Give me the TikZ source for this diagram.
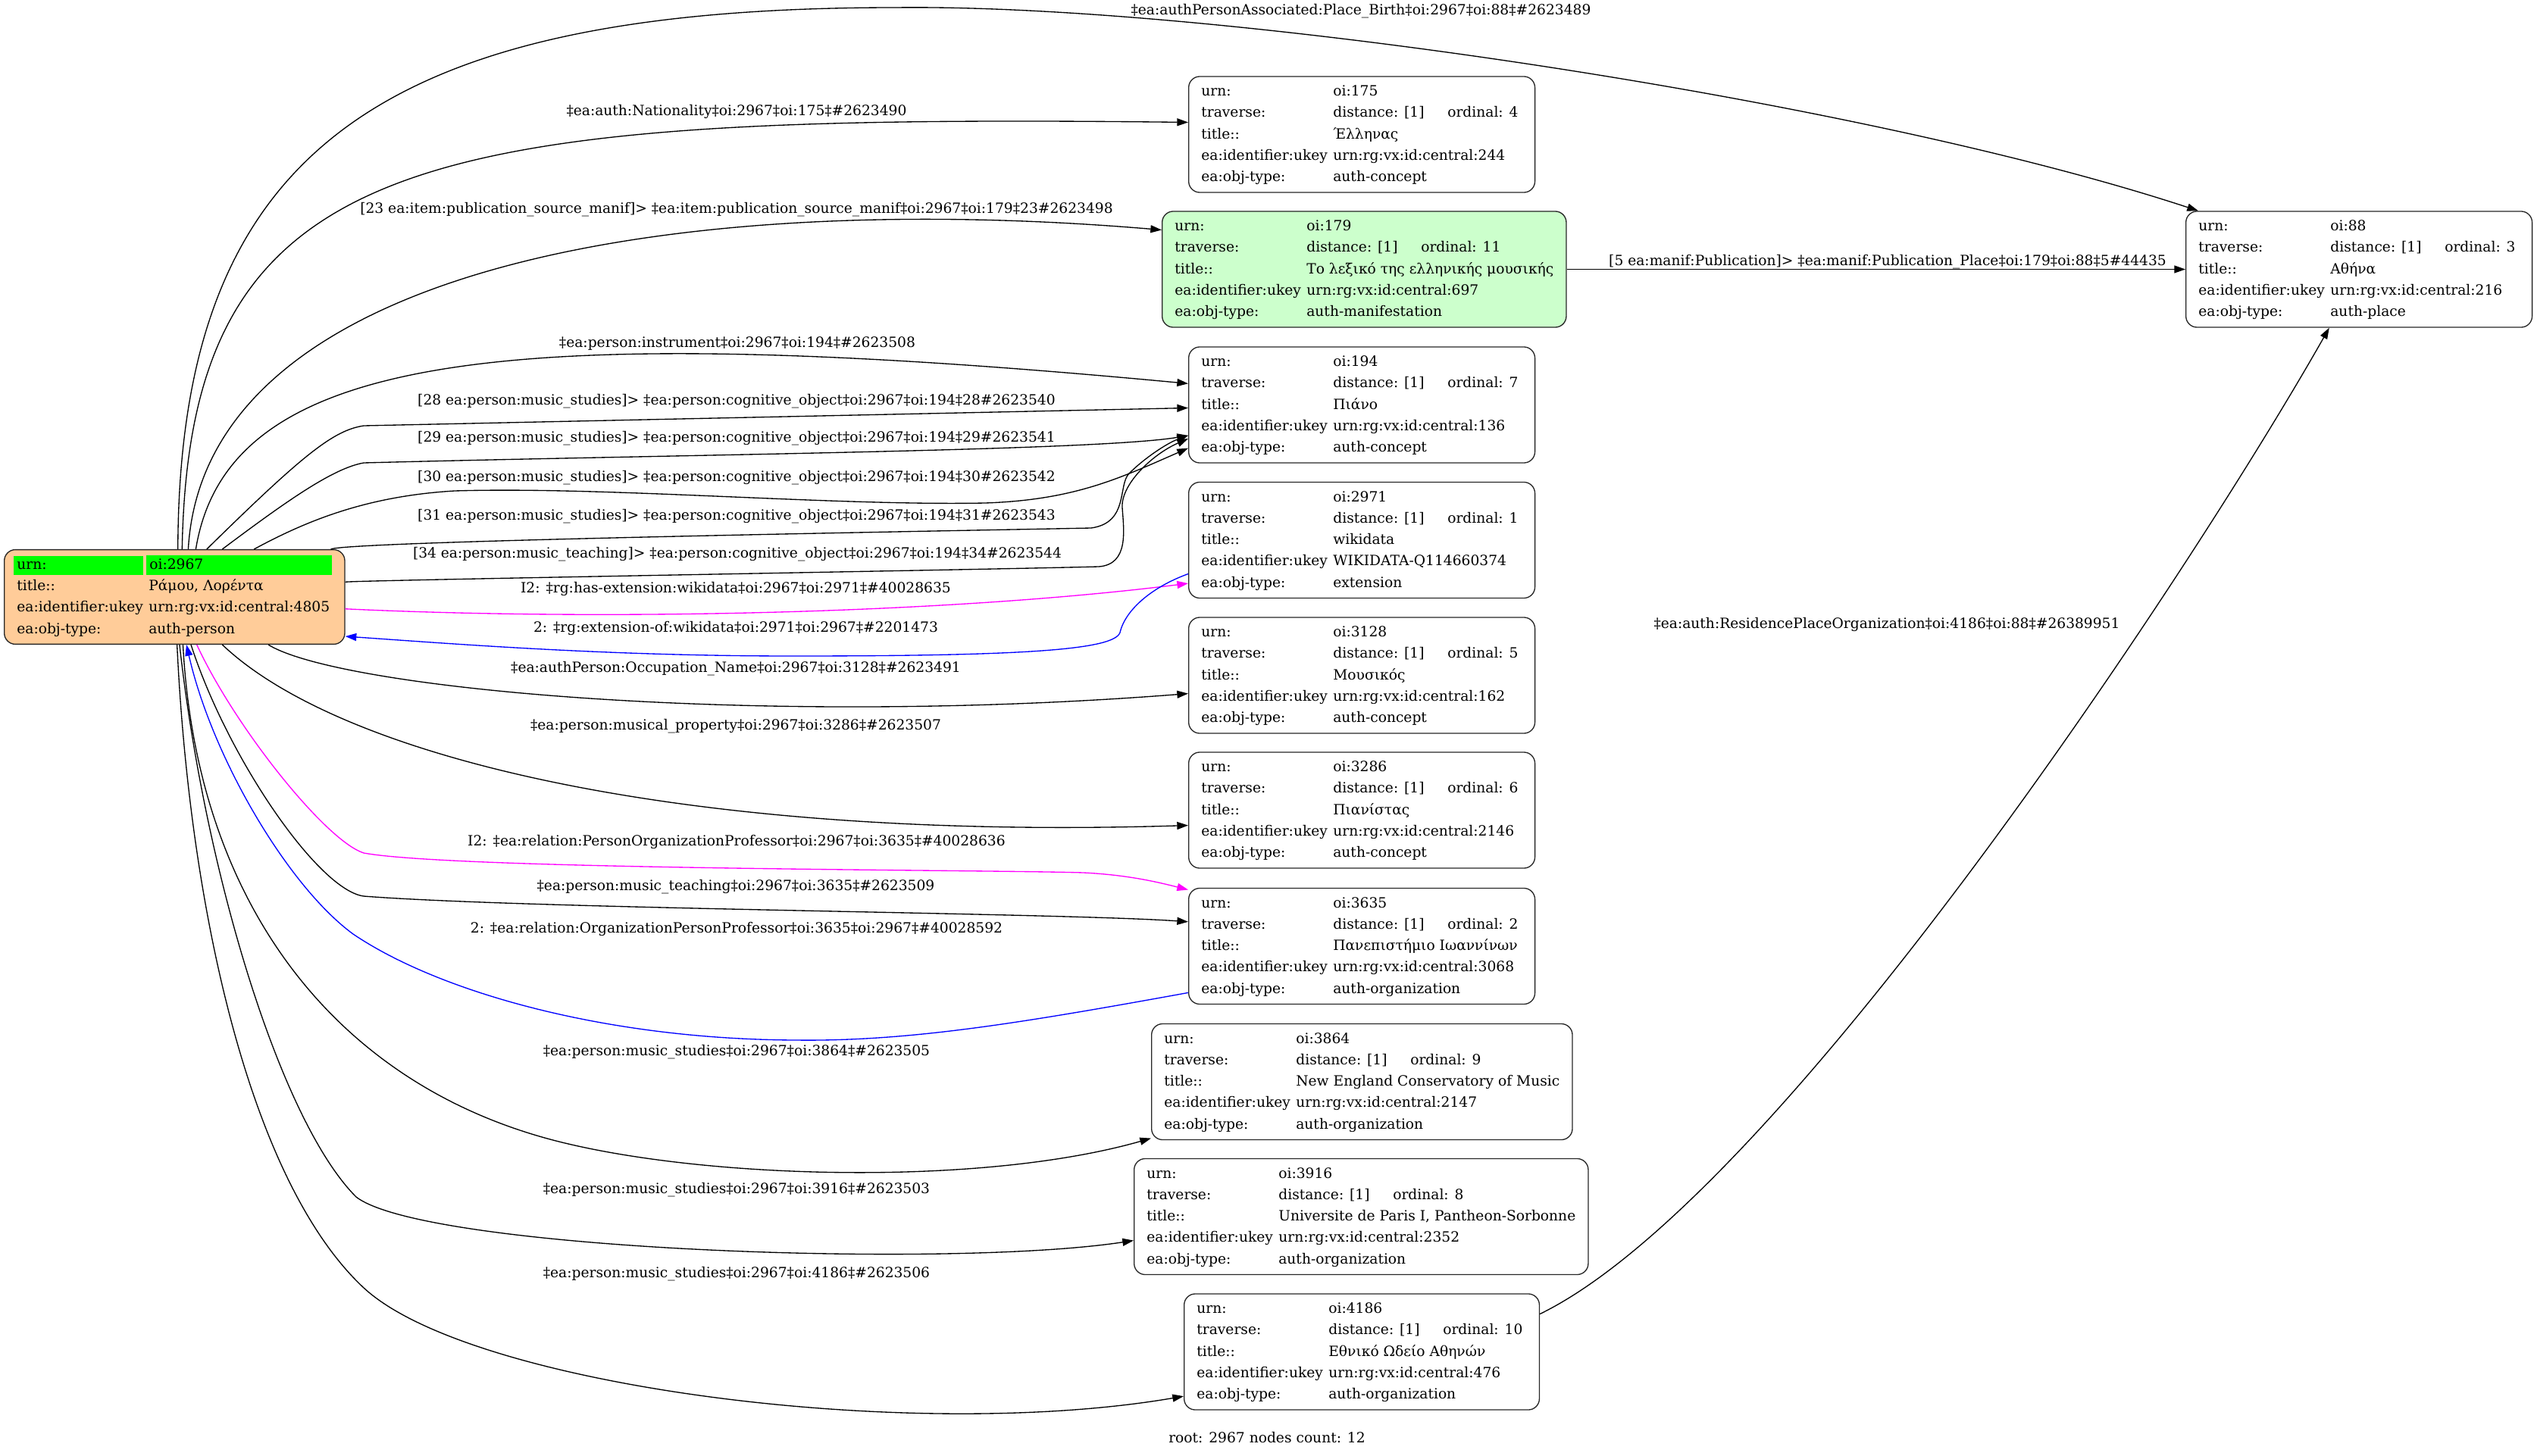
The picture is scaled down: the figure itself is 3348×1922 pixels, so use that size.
\documentclass[tikz,border=0pt]{standalone}
\usepackage{fontspec}
\setmainfont{DejaVu Serif}
\usetikzlibrary{arrows.meta}
\definecolor{person}{HTML}{FFCC99}
\definecolor{hit}{HTML}{00FF00}
\definecolor{manif}{HTML}{CCFFCC}
\definecolor{ext}{HTML}{FF00FF}
\definecolor{back}{HTML}{0000FF}
\tikzset{
  >={Triangle[length=11pt,width=7.5pt]},
  rec/.style = {draw=black!85, line width=1pt, rounded corners=11pt, align=left,
    inner xsep=12.5pt, inner ysep=4.4pt, font=\fontsize{14}{21.2}\selectfont},
  lbl/.style = {anchor=base, inner sep=0pt, font=\fontsize{14}{17}\selectfont},
  rel/.style = {->, line width=1pt},
}
\newcommand{\keycol}[1]{\makebox[130.5pt][l]{#1}}
\newcommand{\objrec}[5]{%
  \keycol{urn:}oi:#1\strut\\
  \keycol{traverse:}distance: [1]\hspace{23pt}ordinal: #2\kern4pt\strut\\
  \keycol{title::}#3\strut\\
  \keycol{ea:identifier:ukey}#4\strut\\
  \keycol{ea:obj-type:}#5\strut}

\begin{document}
\begin{tikzpicture}[x=0.75pt, y=-0.75pt]
  \useasboundingbox (0,0) rectangle (3348,1922);

  \node[rec, fill=person, anchor=west] (n2967) at (5,788) {%
    \hspace*{-3pt}\colorbox{hit}{\rule[-3pt]{0pt}{12.75pt}\makebox[122.25pt][l]{urn:}}\hspace{3pt}%
    \colorbox{hit}{\rule[-3pt]{0pt}{12.75pt}\makebox[177.75pt][l]{oi:2967}}\strut\\
    \keycol{title::}Ράμου, Λορέντα\strut\\
    \keycol{ea:identifier:ukey}urn:rg:vx:id:central:4805\strut\\
    \keycol{ea:obj-type:}auth-person\strut};
  \node[rec, anchor=west] (n175) at (1568,177.5) {\objrec{175}{4}{Έλληνας}{urn:rg:vx:id:central:244}{auth-concept}};
  \node[rec, fill=manif, anchor=west] (n179) at (1533,355.5) {\objrec{179}{11}{Το λεξικό της ελληνικής μουσικής}{urn:rg:vx:id:central:697}{auth-manifestation}};
  \node[rec, anchor=west] (n88) at (2884,355.5) {\objrec{88}{3}{Αθήνα}{urn:rg:vx:id:central:216}{auth-place}};
  \node[rec, anchor=west] (n194) at (1568,534.5) {\objrec{194}{7}{Πιάνο}{urn:rg:vx:id:central:136}{auth-concept}};
  \node[rec, anchor=west] (n2971) at (1568,713) {\objrec{2971}{1}{wikidata}{WIKIDATA-Q114660374}{extension}};
  \node[rec, anchor=west] (n3128) at (1568,891.5) {\objrec{3128}{5}{Μουσικός}{urn:rg:vx:id:central:162}{auth-concept}};
  \node[rec, anchor=west] (n3286) at (1568,1069.5) {\objrec{3286}{6}{Πιανίστας}{urn:rg:vx:id:central:2146}{auth-concept}};
  \node[rec, anchor=west] (n3635) at (1568,1249) {\objrec{3635}{2}{Πανεπιστήμιο Ιωαννίνων}{urn:rg:vx:id:central:3068}{auth-organization}};
  \node[rec, anchor=west] (n3864) at (1519,1428) {\objrec{3864}{9}{New England Conservatory of Music}{urn:rg:vx:id:central:2147}{auth-organization}};
  \node[rec, anchor=west] (n3916) at (1496,1606) {\objrec{3916}{8}{Universite de Paris I, Pantheon-Sorbonne}{urn:rg:vx:id:central:2352}{auth-organization}};
  \node[rec, anchor=west] (n4186) at (1562,1784.5) {\objrec{4186}{10}{Εθνικό Ωδείο Αθηνών}{urn:rg:vx:id:central:476}{auth-organization}};

  \draw[rel] (n2967.86.8) .. controls (236,200) and (500,10) .. (1182,10)
    .. controls (1600,5) and (2450,130) .. (n88.160.9);                    % (2967,88)
  \draw[rel] (n2967.81.4) .. controls (250,200) and (550,150) .. (n175.176.6); % (2967,175)
  \draw[rel] (n2967.74.5) .. controls (270,350) and (900,250) .. (n179.169.8); % (2967,179)
  \draw[rel] (n2967.66.4) .. controls (300,470) and (650,420) .. (n194.173.4); % instrument
  \draw[rel] (n2967.56.6) .. controls (400,600) and (440,568) .. (480,562) -- (n194.181); % [28]
  \draw[rel] (n2967.45.7) .. controls (380,660) and (440,618) .. (480,611)
    .. controls (900,600) and (1450,595) .. (n194.190.7);                  % [29]
  \draw[rel] (n2967.31.3) .. controls (400,690) and (480,655) .. (600,648)
    .. controls (800,642) and (1100,668) .. (1300,664)
    .. controls (1420,660) and (1480,630) .. (n194.194.7);                 % [30]
  \draw[rel] (n2967.17.1) .. controls (460,714) and (1300,700) .. (1440,697)
    .. controls (1490,690) and (1475,640) .. (1490,625)
    .. controls (1510,605) and (1540,585) .. (n194.190.2);                 % [31]
  \draw[rel] (n2967.5.1) .. controls (470,766) and (1300,752) .. (1450,748)
    .. controls (1490,745) and (1483,700) .. (1481,670)
    .. controls (1479,640) and (1520,600) .. (n194.191.2);                 % [34]
  \draw[rel, ext] (n2967.356.2) .. controls (800,820) and (1250,810) .. (n2971.194.6); % (2967,2971)
  \draw[rel, back] (n2971.191.6) .. controls (1520,775) and (1485,805) .. (1478,835)
    .. controls (1470,858) and (1350,866) .. (1046,866)
    .. controls (800,866) and (600,850) .. (n2967.347.4);                  % (2971,2967)
  \draw[rel] (n2967.333) .. controls (450,910) and (1000,960) .. (n3128.186.8);  % (2967,3128)
  \draw[rel] (n2967.315.7) .. controls (450,1000) and (900,1110) .. (n3286.185.1); % (2967,3286)
  \draw[rel, ext] (n2967.295.1) .. controls (310,960) and (430,1110) .. (480,1126)
    .. controls (600,1148) and (1300,1148) .. (1430,1152)
    .. controls (1490,1155) and (1530,1165) .. (n3635.162.1);              % (2967,3635)
  \draw[rel] (n2967.289.6) .. controls (300,1000) and (420,1175) .. (480,1183)
    .. controls (700,1200) and (1400,1205) .. (n3635.172.6);               % (2967,3635)
  \draw[rel, back] (n3635.195.1) .. controls (1350,1350) and (1200,1375) .. (1050,1373)
    .. controls (800,1372) and (580,1310) .. (466,1233)
    .. controls (380,1170) and (280,1000) .. (n2967.284.7);                % (3635,2967)
  \draw[rel] (n2967.280.4) .. controls (260,1200) and (450,1440) .. (750,1510)
    .. controls (950,1557) and (1300,1565) .. (n3864.195.3);               % (2967,3864)
  \draw[rel] (n2967.276.8) .. controls (270,1150) and (370,1480) .. (470,1580)
    .. controls (560,1650) and (1250,1675) .. (n3916.186.5);               % (2967,3916)
  \draw[rel] (n2967.273.2) .. controls (250,1200) and (330,1560) .. (480,1700)
    .. controls (620,1830) and (1200,1905) .. (n4186.194.2);               % (2967,4186)
  \draw[rel] (n179) -- (n88);                                              % (179,88)
  \draw[rel] (n4186.12.8) .. controls (2350,1580) and (2900,740) .. (n88.243.3); % (4186,88)

  \node[lbl] (l88) at (1796,20) {‡ea:authPersonAssociated:Place\_Birth‡oi:2967‡oi:88‡\#2623489};
  \node[lbl] (l175) at (972,153) {‡ea:auth:Nationality‡oi:2967‡oi:175‡\#2623490};
  \node[lbl] (l179) at (972,282) {[23 ea:item:publication\_source\_manif]> ‡ea:item:publication\_source\_manif‡oi:2967‡oi:179‡23\#2623498};
  \node[lbl] (l194) at (973,459) {‡ea:person:instrument‡oi:2967‡oi:194‡\#2623508};
  \node[lbl] (l28) at (972,534) {[28 ea:person:music\_studies]> ‡ea:person:cognitive\_object‡oi:2967‡oi:194‡28\#2623540};
  \node[lbl] (l29) at (972,583) {[29 ea:person:music\_studies]> ‡ea:person:cognitive\_object‡oi:2967‡oi:194‡29\#2623541};
  \node[lbl] (l30) at (972,635) {[30 ea:person:music\_studies]> ‡ea:person:cognitive\_object‡oi:2967‡oi:194‡30\#2623542};
  \node[lbl] (l31) at (972,686) {[31 ea:person:music\_studies]> ‡ea:person:cognitive\_object‡oi:2967‡oi:194‡31\#2623543};
  \node[lbl] (l34) at (973,736) {[34 ea:person:music\_teaching]> ‡ea:person:cognitive\_object‡oi:2967‡oi:194‡34\#2623544};
  \node[lbl] (l2971) at (971,782) {I2: ‡rg:has-extension:wikidata‡oi:2967‡oi:2971‡\#40028635};
  \node[lbl] (l2971b) at (971,834) {2: ‡rg:extension-of:wikidata‡oi:2971‡oi:2967‡\#2201473};
  \node[lbl] (l3128) at (971,887) {‡ea:authPerson:Occupation\_Name‡oi:2967‡oi:3128‡\#2623491};
  \node[lbl] (l3286) at (971,963) {‡ea:person:musical\_property‡oi:2967‡oi:3286‡\#2623507};
  \node[lbl] (l3635) at (972,1116) {I2: ‡ea:relation:PersonOrganizationProfessor‡oi:2967‡oi:3635‡\#40028636};
  \node[lbl] (l3635b) at (971,1175) {‡ea:person:music\_teaching‡oi:2967‡oi:3635‡\#2623509};
  \node[lbl] (l3635c) at (972,1231) {2: ‡ea:relation:OrganizationPersonProfessor‡oi:3635‡oi:2967‡\#40028592};
  \node[lbl] (l3864) at (972,1393) {‡ea:person:music\_studies‡oi:2967‡oi:3864‡\#2623505};
  \node[lbl] (l3916) at (972,1575) {‡ea:person:music\_studies‡oi:2967‡oi:3916‡\#2623503};
  \node[lbl] (l4186) at (972,1686) {‡ea:person:music\_studies‡oi:2967‡oi:4186‡\#2623506};
  \node[lbl] (l179b) at (2491,351) {[5 ea:manif:Publication]> ‡ea:manif:Publication\_Place‡oi:179‡oi:88‡5\#44435};
  \node[lbl] (l4186b) at (2490,829) {‡ea:auth:ResidencePlaceOrganization‡oi:4186‡oi:88‡\#26389951};
  \node[lbl] (foot) at (1672,1904) {root: 2967 nodes count: 12};
\end{tikzpicture}
\end{document}
